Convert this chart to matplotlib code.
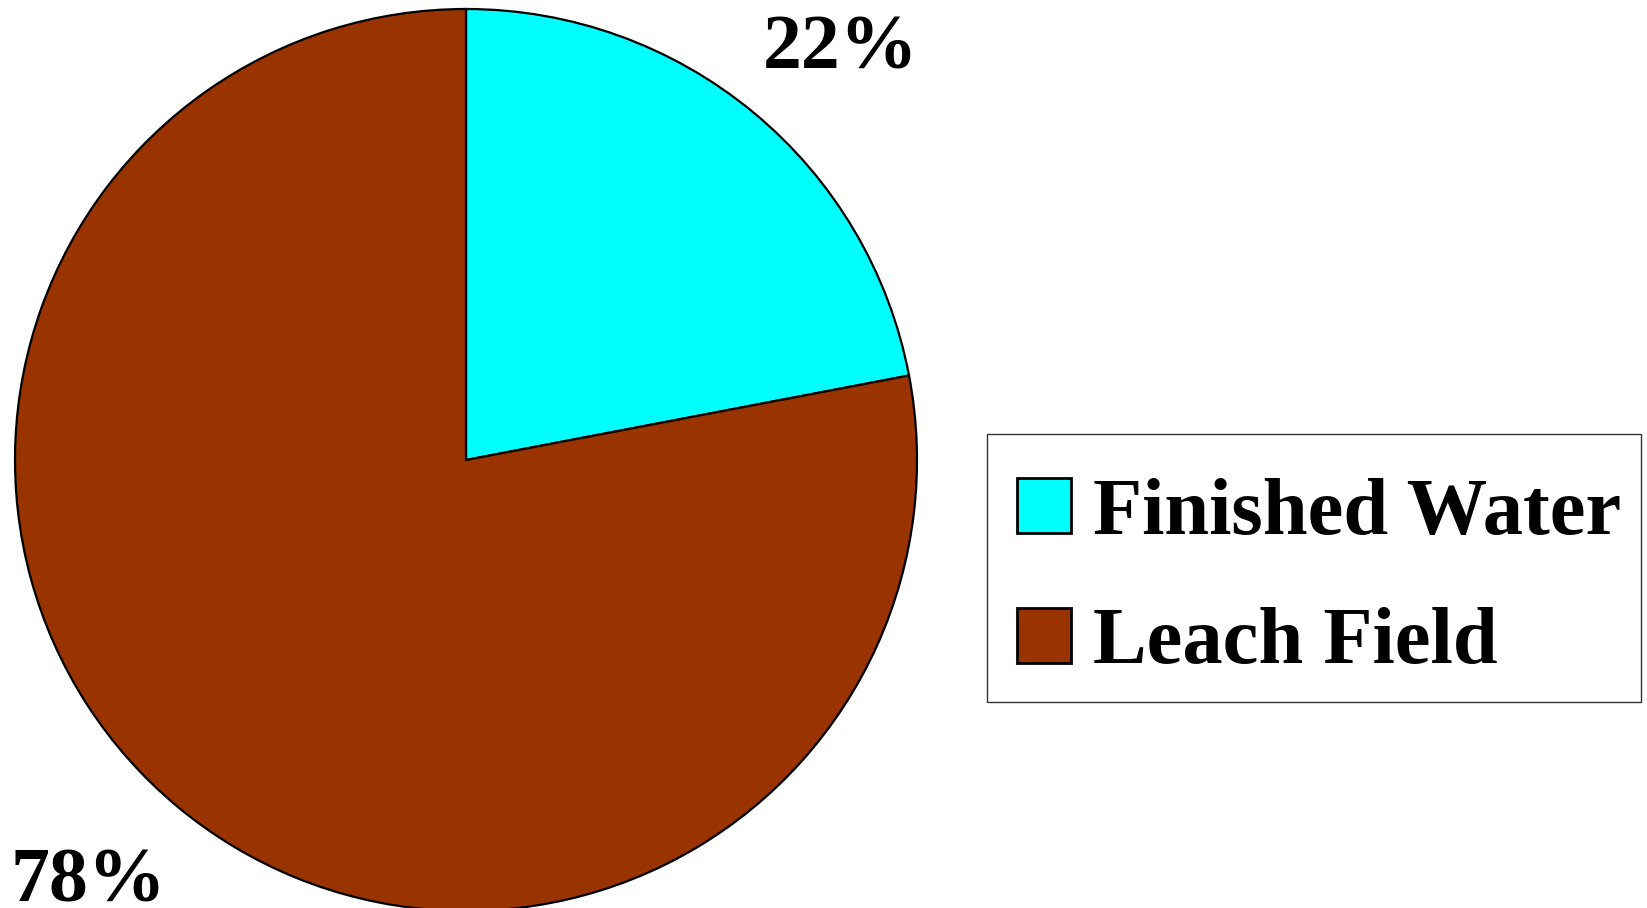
import matplotlib
matplotlib.use("Agg")
import matplotlib.pyplot as plt
from matplotlib.patches import Rectangle

# Share of water by destination
categories = ["Finished Water", "Leach Field"]
shares = [22, 78]
colors = ["#00FFFF", "#993300"]

plt.rcParams["font.family"] = ["Liberation Serif", "DejaVu Serif"]
plt.rcParams["font.weight"] = "bold"

W, H = 1647, 908
fig = plt.figure(figsize=(W / 100, H / 100), dpi=100)
fig.patch.set_facecolor("white")

# Pie centred at (466, 460) px with a 451 px radius
cx, cy, r = 466, 460, 451
ax = fig.add_axes([(cx - r) / W, (H - cy - r) / H, 2 * r / W, 2 * r / H])
wedges, _, autotexts = ax.pie(
    shares,
    colors=colors,
    startangle=90,
    counterclock=False,
    autopct="%d%%",
    wedgeprops=dict(edgecolor="black", linewidth=1.6),
    textprops=dict(fontsize=56, fontweight="bold", color="black"),
)
# percentage labels sit outside the rim, diagonally opposite each other
label_pos = [(0.830, 0.869), (-0.838, -0.978)]
for t, (x, y) in zip(autotexts, label_pos):
    t.set_position((x, y))
    t.set_ha("center")
    t.set_va("baseline")
    t.set_clip_on(False)
ax.set_xlim(-1, 1)
ax.set_ylim(-1, 1)
ax.set_aspect("equal")
ax.axis("off")

# legend frame
fig.patches.append(Rectangle(
    (987 / W, (H - 702) / H), (1641 - 987) / W, (702 - 434) / H,
    transform=fig.transFigure, facecolor="white", edgecolor="#333333",
    linewidth=1.0, zorder=0,
))

leg = fig.legend(
    wedges,
    categories,
    loc="upper left",
    bbox_to_anchor=(1017 / W, (H - 478) / H),
    bbox_transform=fig.transFigure,
    borderaxespad=0,
    borderpad=0,
    prop=dict(family="Liberation Serif", weight="bold", size=58),
    handlelength=0.67,
    handleheight=0.67,
    handletextpad=0.27,
    labelspacing=0.70,
    frameon=False,
)
for h in leg.legend_handles:
    h.set_edgecolor("black")
    h.set_linewidth(2.0)

fig.savefig("out.png", dpi=100, facecolor="white")
